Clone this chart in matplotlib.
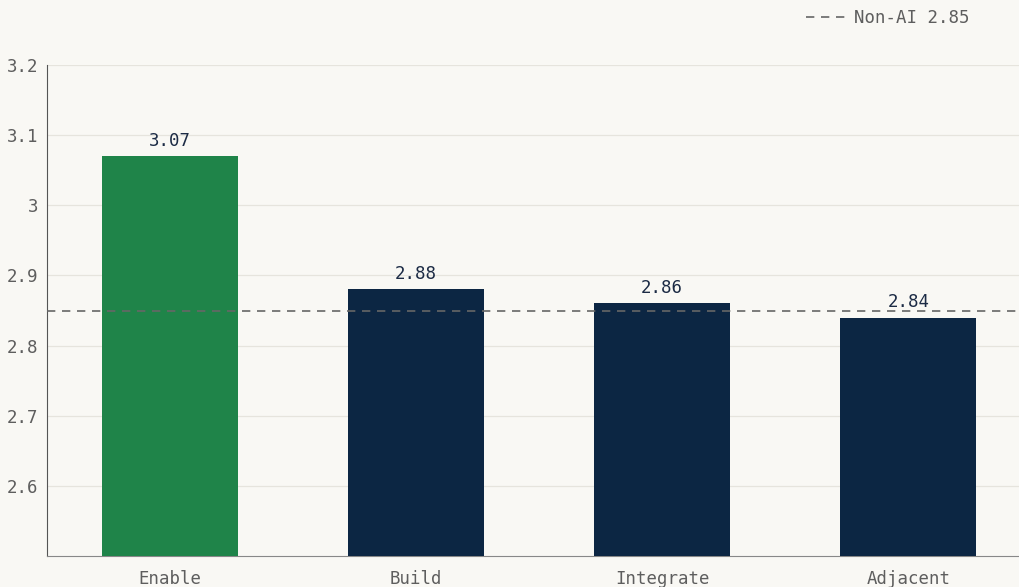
import matplotlib.pyplot as plt

categories = ["Enable", "Build", "Integrate", "Adjacent"]
values = [3.07, 2.88, 2.86, 2.84]
colors = ["#1f8449", "#0c2643", "#0c2643", "#0c2643"]
baseline = 2.85
baseline_label = "Non-AI 2.85"
yticks = [2.6, 2.7, 2.8, 2.9, 3.0, 3.1, 3.2]
ytick_labels = ["2.6", "2.7", "2.8", "2.9", "3", "3.1", "3.2"]

plt.rcParams['font.family'] = ['DejaVu Sans Mono']
bg = "#f9f8f4"

fig = plt.figure(figsize=(10.19, 5.87), dpi=100, facecolor=bg)
ax = fig.add_axes([47/1019, 1 - 556/587, 972/1019, 491/587], facecolor=bg)

x = list(range(len(categories)))
ax.bar(x, values, width=0.553, color=colors, zorder=3)
for xi, v in zip(x, values):
    ax.text(xi, v + 0.009, f"{v:.2f}", ha="center", va="bottom",
            fontsize=12.5, color="#1c2b45", fontweight="medium", zorder=4)

ax.axhline(baseline, color="#666666", linestyle=(0, (5, 4)), linewidth=1.2,
           zorder=4, label=baseline_label)

ax.set_xlim(-0.5, 3.45)
ax.set_ylim(2.5, 3.2)
ax.set_yticks(yticks)
ax.set_yticklabels(ytick_labels)
ax.set_xticks(x)
ax.set_xticklabels(categories)
ax.tick_params(axis="both", length=0, labelsize=12.5, colors="#5e5e5e")
ax.tick_params(axis="x", pad=10)
ax.tick_params(axis="y", pad=6)
ax.grid(axis="y", color="#e6e4dd", linewidth=0.9, zorder=0)

for s in ["top", "right"]:
    ax.spines[s].set_visible(False)
ax.spines["left"].set_color("#555555")
ax.spines["bottom"].set_color("#888888")

leg = fig.legend(loc="upper right", bbox_to_anchor=(0.967, 1.012), frameon=False,
                 fontsize=12.5, handlelength=2.4, handletextpad=0.4)
for t in leg.get_texts():
    t.set_color("#5e5e5e")

fig.savefig("out.png", dpi=100, facecolor=bg)
